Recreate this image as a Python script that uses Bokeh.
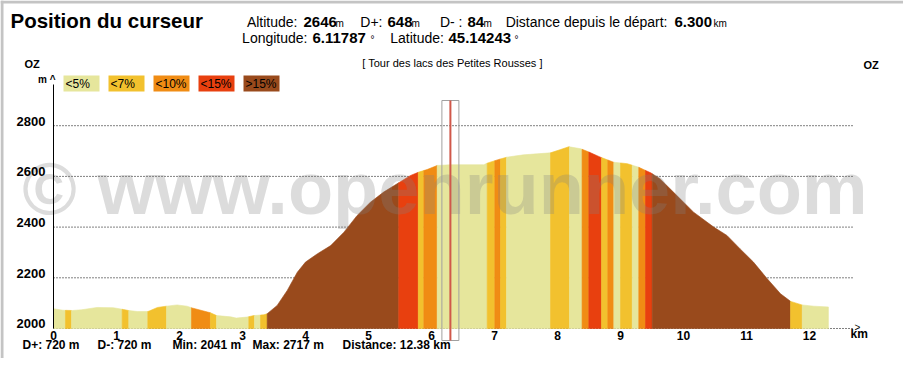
import numpy as np
from bokeh.plotting import figure
from bokeh.models import Range1d, LinearAxis, FixedTicker, ColumnDataSource
from bokeh.core.properties import value
from bokeh.embed import file_html
from bokeh.resources import INLINE

# ---------------- data ----------------
dist_km = [0.00, 0.15, 0.30, 0.45, 0.69, 0.95, 1.11, 1.19, 1.33, 1.49, 1.51, 1.65,
           1.79, 1.96, 2.12, 2.20, 2.49, 2.59, 2.81, 2.90, 3.07, 3.18, 3.34, 3.39,
           3.55, 3.71, 3.87, 4.00, 4.19, 4.40, 4.61, 4.82, 5.03, 5.24, 5.48, 5.67,
           5.80, 5.93, 6.09, 6.30, 6.83, 6.88, 7.07, 7.20, 7.46, 7.89, 8.05, 8.18,
           8.37, 8.50, 8.68, 8.89, 9.11, 9.29, 9.48, 9.63, 9.84, 10.16, 10.48, 10.69,
           10.90, 11.11, 11.33, 11.54, 11.70, 11.88, 12.07, 12.30]
alt_m = [2078, 2072, 2071, 2074, 2083, 2082, 2075, 2071, 2067, 2067, 2068, 2083,
         2088, 2093, 2088, 2081, 2062, 2051, 2046, 2041, 2045, 2051, 2054, 2058,
         2091, 2150, 2222, 2262, 2295, 2327, 2380, 2446, 2498, 2538, 2575, 2604,
         2617, 2627, 2643, 2646, 2646, 2652, 2667, 2676, 2685, 2693, 2706, 2717,
         2709, 2696, 2676, 2656, 2650, 2636, 2614, 2590, 2538, 2459, 2400, 2367,
         2314, 2262, 2196, 2137, 2107, 2093, 2088, 2085]

band_edges_km = [0.0, 0.19, 0.286, 1.09, 1.195, 1.497, 1.794, 2.19, 2.49, 2.587,
                 3.10, 3.19, 3.286, 3.392, 5.48, 5.79, 5.878, 6.09, 6.884, 7.005,
                 7.095, 7.19, 7.889, 8.19, 8.39, 8.497, 8.698, 8.798, 8.894, 9.0,
                 9.186, 9.29, 9.397, 9.503, 11.698, 11.884, 12.30]
band_class = ["<5%", "<7%", "<5%", "<7%", "<5%", "<7%", "<5%", "<10%", "<7%", "<5%",
              "<7%", "<5%", "<7%", ">15%", "<15%", "<7%", "<10%", "<5%", "<7%", "<10%",
              "<7%", "<5%", "<7%", "<5%", "<10%", "<15%", "<7%", "<10%", "<5%", "<7%",
              "<5%", "<10%", "<15%", ">15%", "<7%", "<5%"]

class_labels = ["<5%", "<7%", "<10%", "<15%", ">15%"]
class_colors = ["#e6e69c", "#f2c12e", "#f08c14", "#e8400f", "#994a1c"]

x_ticks = [0, 1, 2, 3, 4, 5, 6, 7, 8, 9, 10, 11, 12]
y_ticks = [2000, 2200, 2400, 2600, 2800]

cursor_km = 6.300
cursor_alt = 2646
cursor_dplus = 648
cursor_dminus = 84
cursor_lon = 6.11787
cursor_lat = 45.14243

total_dplus = 720
total_dminus = 720
alt_min = 2041
alt_max = 2717
total_km = 12.38
route_name = "Tour des lacs des Petites Rousses"
start_end = "OZ"

# ---------------- layout ----------------
FONT = "Liberation Sans"
W, H, MARGIN = 903, 358, 0
X0, Y0 = 53.0, 328.0          # page pixel of km 0 / 2000 m
PXKM, PXM = 63.0, 0.2535
BASE = 0.355                  # anchor-to-baseline correction (em)


def kx(X):
    return (X - X0) / PXKM


def my(Y):
    return 2000 + (Y0 - Y) / PXM


p = figure(width=W, height=H, output_backend="svg", toolbar_location=None,
           x_range=Range1d(kx(MARGIN), kx(MARGIN + W)),
           y_range=Range1d(my(MARGIN + H), my(MARGIN)),
           x_axis_type=None, y_axis_type=None, min_border=0,
           outline_line_color=None, background_fill_color="white",
           border_fill_color="white")


def txt(items, size, style="normal", color="black", align="left", alpha=1.0):
    off = BASE * size
    p.text(x=[kx(i[0]) for i in items], y=[my(i[1] - off) for i in items],
           text=[i[2] for i in items], text_font=value(FONT),
           text_font_size=value(f"{size}px"), text_font_style=style,
           text_color=color, text_align=align, text_baseline="alphabetic",
           text_alpha=alpha)


# outer frame (left / top edges visible in the window)
p.quad(left=[kx(0)], right=[kx(3)], bottom=[my(366)], top=[my(0)],
       fill_color="#c4c4c4", line_color=None)
p.quad(left=[kx(0)], right=[kx(911)], bottom=[my(3)], top=[my(0)],
       fill_color="#c4c4c4", line_color=None)

# dotted grid lines
grid_end = kx(852)
p.segment(x0=[0] * len(y_ticks), y0=y_ticks, x1=[grid_end] * len(y_ticks), y1=y_ticks,
          line_color="black", line_width=1, line_dash="1 2")

# slope-coloured profile bands
dist = np.array(dist_km, dtype=float)
alt = np.array(alt_m, dtype=float)
xs_list, ys_list, cols = [], [], []
for a, b, c in zip(band_edges_km[:-1], band_edges_km[1:], band_class):
    inner = dist[(dist > a) & (dist < b)]
    xs = np.concatenate([[a], inner, [b]])
    ys = np.interp(xs, dist, alt)
    xs_list.append(list(xs) + [b, a])
    ys_list.append(list(ys) + [2000, 2000])
    cols.append(class_colors[class_labels.index(c)])
src = ColumnDataSource(dict(xs=xs_list, ys=ys_list, color=cols))
p.patches(xs="xs", ys="ys", fill_color="color", line_color="color", line_width=0.6,
          source=src)

# watermark
txt([(444.5, 214, "\u00a9 www.openrunner.com")], 74, "bold", "#808080", "center", 0.28)

# cursor
half = 8.5 / PXKM
p.quad(left=[cursor_km - half], right=[cursor_km + half], bottom=[my(340)], top=[my(100)],
       fill_color=None, line_color="#a0a0a0", line_width=1)
p.segment(x0=[cursor_km], y0=[my(100)], x1=[cursor_km], y1=[my(340)],
          line_color="#d0584a", line_width=2)

# y axis: line from the library, labels sitting on their grid line
yax = LinearAxis(fixed_location=0, ticker=FixedTicker(ticks=[]),
                 bounds=(2000, my(84)), axis_line_color="black", axis_line_width=1,
                 major_tick_line_color=None, major_tick_out=0, major_tick_in=0,
                 minor_tick_line_color=None)
p.add_layout(yax, "left")
lab_off = BASE * 13 / PXM
p.text(x=[kx(45)] * len(y_ticks), y=[t + lab_off for t in y_ticks],
       text=[str(t) for t in y_ticks], text_font=value(FONT),
       text_font_size=value("13px"), text_font_style="bold", text_color="black",
       text_align="right", text_baseline="alphabetic")

xax = LinearAxis(fixed_location=2000, ticker=FixedTicker(ticks=x_ticks),
                 axis_line_color=None, major_tick_line_color=None, major_tick_out=0,
                 major_tick_in=0, minor_tick_line_color=None, major_label_standoff=2,
                 major_label_text_font=FONT, major_label_text_font_size="12px",
                 major_label_text_font_style="bold", major_label_text_color="black")
p.add_layout(xax, "below")

# axis decorations
txt([(55, 83, "m ^")], 10, "bold", align="right")
txt([(850, 338, "km")], 12, "bold")
txt([(857, 331, ">")], 10, "normal", align="center")

# legend
for i, (lab, col) in enumerate(zip(class_labels, class_colors)):
    left = 63 + 45 * i
    p.quad(left=[kx(left)], right=[kx(left + 36)], top=[my(75)], bottom=[my(91)],
           fill_color=col, line_color=None)
    txt([(left + 2, 88, lab)], 12)

# header
txt([(10, 27, "Position du curseur")], 20.5, "bold")
txt([(297, 26.5, "Altitude:"), (382, 26.5, "D+:"), (462, 26.5, "D- :"),
     (667, 26.5, "Distance depuis le d\u00e9part:"),
     (307, 42.5, "Longitude:"), (443.5, 42.5, "Latitude:")], 14, align="right")
txt([(303, 26.5, f"{cursor_alt}"), (387, 26.5, f"{cursor_dplus}"),
     (467, 26.5, f"{cursor_dminus}"), (674, 26.5, f"{cursor_km:.3f}"),
     (312, 42.5, f"{cursor_lon:.5f}"), (448, 42.5, f"{cursor_lat:.5f}")], 15, "bold")
txt([(335, 26.5, "m"), (411, 26.5, "m"), (483, 26.5, "m"), (713, 26.5, "km"),
     (370, 42.5, "\u00b0"), (514, 42.5, "\u00b0")], 10)

# route title and start/end
txt([(452, 66, f"[ {route_name} ]")], 11, align="center")
txt([(24, 67, start_end), (863, 68, start_end)], 11, "bold")

# bottom statistics
txt([(22, 349, f"D+: {total_dplus} m"), (97, 349, f"D-: {total_dminus} m"),
     (172, 349, f"Min: {alt_min} m"), (252, 349, f"Max: {alt_max} m"),
     (342, 349, f"Distance: {total_km:.2f} km")], 12, "bold")

open("out.html", "w").write(file_html(p, INLINE))
